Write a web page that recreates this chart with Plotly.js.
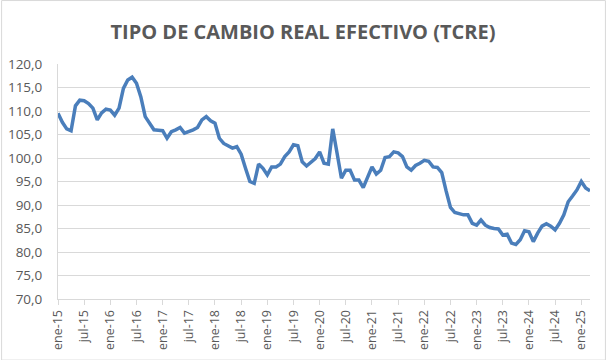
<!DOCTYPE html>
<html>
<head>
<meta charset="utf-8">
<script src="https://cdn.plot.ly/plotly-3.0.1.min.js"></script>
<style>
html,body{margin:0;padding:0;background:#fff;}
#chart{width:606px;height:360px;}
</style>
</head>
<body>
<div id="chart"></div>
<script>
var months = [
"ene-15","feb-15","mar-15","abr-15","may-15","jun-15","jul-15","ago-15","sep-15","oct-15","nov-15","dic-15",
"ene-16","feb-16","mar-16","abr-16","may-16","jun-16","jul-16","ago-16","sep-16","oct-16","nov-16","dic-16",
"ene-17","feb-17","mar-17","abr-17","may-17","jun-17","jul-17","ago-17","sep-17","oct-17","nov-17","dic-17",
"ene-18","feb-18","mar-18","abr-18","may-18","jun-18","jul-18","ago-18","sep-18","oct-18","nov-18","dic-18",
"ene-19","feb-19","mar-19","abr-19","may-19","jun-19","jul-19","ago-19","sep-19","oct-19","nov-19","dic-19",
"ene-20","feb-20","mar-20","abr-20","may-20","jun-20","jul-20","ago-20","sep-20","oct-20","nov-20","dic-20",
"ene-21","feb-21","mar-21","abr-21","may-21","jun-21","jul-21","ago-21","sep-21","oct-21","nov-21","dic-21",
"ene-22","feb-22","mar-22","abr-22","may-22","jun-22","jul-22","ago-22","sep-22","oct-22","nov-22","dic-22",
"ene-23","feb-23","mar-23","abr-23","may-23","jun-23","jul-23","ago-23","sep-23","oct-23","nov-23","dic-23",
"ene-24","feb-24","mar-24","abr-24","may-24","jun-24","jul-24","ago-24","sep-24","oct-24","nov-24","dic-24",
"ene-25","feb-25","mar-25"
];

var tcre = [
109.5,107.6,106.2,105.8,111.1,112.3,112.2,111.6,110.6,108.1,109.6,110.4,
110.2,109.1,110.6,114.8,116.6,117.2,115.9,113.0,108.8,107.4,106.0,105.9,
105.8,104.2,105.6,106.0,106.5,105.3,105.6,106.0,106.5,108.1,108.8,107.9,
107.4,104.2,103.1,102.5,102.1,102.4,100.8,97.8,95.0,94.6,98.7,97.8,
96.4,98.1,98.1,98.7,100.3,101.3,102.8,102.6,99.2,98.3,99.2,99.9,
101.3,98.9,98.7,106.2,101.0,95.7,97.4,97.4,95.3,95.3,93.7,95.9,
98.1,96.6,97.4,100.1,100.3,101.3,101.1,100.3,98.1,97.4,98.4,98.9,
99.5,99.3,98.1,98.0,96.9,93.0,89.5,88.4,88.2,87.9,87.9,86.1,
85.7,86.8,85.7,85.2,85.0,84.9,83.6,83.8,81.9,81.6,82.6,84.5,
84.3,82.2,84.0,85.5,86.0,85.5,84.7,86.1,87.9,90.7,91.9,93.2,
95.0,93.6,93.0
];

var tickLabels = ["ene-15","jul-15","ene-16","jul-16","ene-17","jul-17","ene-18","jul-18","ene-19","jul-19",
"ene-20","jul-20","ene-21","jul-21","ene-22","jul-22","ene-23","jul-23","ene-24","jul-24","ene-25"];

var trace = {
  x: months,
  y: tcre,
  type: 'scatter',
  mode: 'lines',
  line: {color: '#4A7EBB', width: 3.5, shape: 'linear'},
  hoverinfo: 'x+y'
};

var layout = {
  width: 606,
  height: 360,
  paper_bgcolor: '#ffffff',
  plot_bgcolor: '#ffffff',
  margin: {l: 58, r: 16, t: 64, b: 61},
  separators: ',.',
  showlegend: false,
  title: {
    text: '<b>TIPO DE CAMBIO REAL EFECTIVO (TCRE)</b>',
    font: {family: 'Open Sans, sans-serif', size: 20, color: '#595959'},
    x: 0.5, xanchor: 'center', xref: 'container',
    y: 0.91, yanchor: 'middle', yref: 'container'
  },
  xaxis: {
    type: 'category',
    range: [0, months.length - 1],
    tickmode: 'array',
    tickvals: tickLabels,
    ticktext: tickLabels,
    tickangle: -90,
    ticks: 'outside',
    ticklen: 5,
    tickcolor: '#D9D9D9',
    showline: true,
    linecolor: '#D9D9D9',
    linewidth: 1,
    showgrid: false,
    zeroline: false,
    tickfont: {family: 'Open Sans, sans-serif', size: 12.5, color: '#595959'}
  },
  yaxis: {
    range: [70, 120],
    dtick: 5,
    tick0: 70,
    tickformat: '.1f',
    showline: true,
    linecolor: '#D9D9D9',
    linewidth: 1,
    showgrid: true,
    gridcolor: '#D9D9D9',
    gridwidth: 1,
    zeroline: false,
    ticks: '',
    ticklabelstandoff: 12,
    tickfont: {family: 'Open Sans, sans-serif', size: 13.5, color: '#595959'}
  },
  shapes: [{
    type: 'rect', xref: 'paper', yref: 'paper',
    x0: -0.106, x1: 1.029, y0: -0.26, y1: 1.27,
    line: {color: '#D9D9D9', width: 1}
  }]
};

Plotly.newPlot('chart', [trace], layout, {displayModeBar: false, staticPlot: true});
</script>
</body>
</html>
